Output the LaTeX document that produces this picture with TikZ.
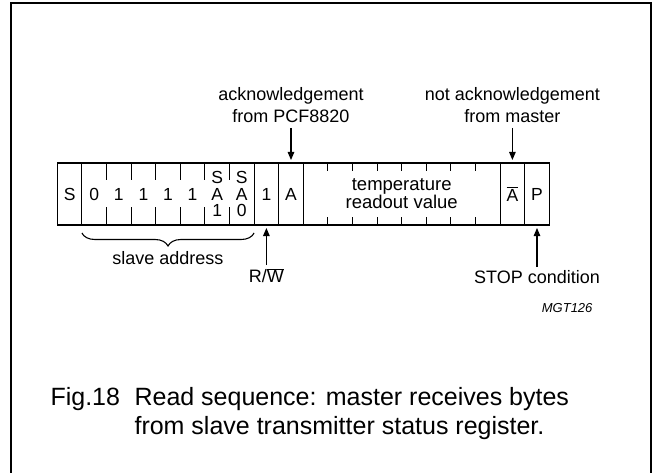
\documentclass[tikz,border=0pt]{standalone}
\usepackage{fontspec}
\setmainfont{Liberation Sans}
\usetikzlibrary{arrows.meta, positioning, decorations.pathreplacing}

\begin{document}
\begin{tikzpicture}[
            x = 1pt, y = -1pt,
            > = {Triangle[length=8pt, width=6.5pt]},
            line width = 1.1pt,
            node distance = 0pt
        ]

        \tikzstyle{cell}=[
            minimum width = 24.6pt,
            minimum height = 62pt,
            inner sep = 0pt,
            outer sep = 0pt,
            align = center,
            font = \fontsize{17.5}{16.5}\selectfont
        ]
        \tikzstyle{lbl}=[
            inner sep = 0pt,
            align = center,
            font = \fontsize{18}{22}\selectfont
        ]
        \tikzstyle{capt}=[
            inner sep = 0pt,
            anchor = base west,
            font = \fontsize{25}{29}\selectfont
        ]

        \useasboundingbox (0,0) rectangle (653,473);
        % frame, open at the bottom
        \draw[line width=2pt] (11,473) -- (11,3.5) -- (651,3.5) -- (651,473);

        % the byte cells
        \node[cell] (c1) at (69.6,194) {S};
        \node[cell] (c2) [right=of c1] {0};
        \foreach \i/\j in {3/2, 4/3, 5/4, 6/5}
            \node[cell] (c\i) [right=of c\j] {1};
        \node[cell] (c7) [right=of c6] {S\\A\\1};
        \node[cell] (c8) [right=of c7] {S\\A\\0};
        \node[cell] (c9) [right=of c8] {1};
        \node[cell] (c10) [right=of c9] {A};
        \foreach \i/\j in {11/10, 12/11, 13/12, 14/13, 15/14, 16/15, 17/16, 18/17}
            \node[cell] (c\i) [right=of c\j] {};
        \node[cell] (c19) [right=of c18] {$\overline{\hbox{A}}$};
        \node[cell] (c20) [right=of c19] {P};
        \node[cell, minimum width=0pt, font=\fontsize{18.5}{18}\selectfont] (temp) at (c14.east)
            {temperature\\readout value};

        \draw (c1.north west) rectangle (c20.south east);
        \foreach \c in {1, 8, 9, 10, 18, 19}
            \draw (c\c.north east) -- (c\c.south east);
        \foreach \c in {2,...,7} {
            \draw (c\c.north east) -- ++(0,17);
            \draw (c\c.south east) -- ++(0,-18);
        }
        \foreach \c in {11,...,17} {
            \draw (c\c.north east) -- ++(0,8);
            \draw (c\c.south east) -- ++(0,-8);
        }

        % labels and arrows
        \coordinate (ackt) at ([yshift=35pt]c10.north);
        \node[lbl] (ack) [above=5pt of ackt] {acknowledgement\\from PCF8820};
        \draw[->, shorten >=3pt] (ackt) -- (c10.north);

        \coordinate (nackt) at ([yshift=35pt]c19.north);
        \node[lbl] (nack) [above=5pt of nackt] {not acknowledgement\\from master};
        \draw[->, shorten >=3pt] (nackt) -- (c19.north);

        \coordinate (rwt) at ([yshift=-40pt]c9.south);
        \node[lbl] (rw) [below=3pt of rwt] {R/$\overline{\hbox{W}}$};
        \draw[->, shorten >=3pt] (rwt) -- (c9.south);

        \coordinate (stopt) at ([yshift=-42pt]c20.south);
        \node[lbl] (stop) [below=3pt of stopt] {STOP condition};
        \draw[->, shorten >=3pt] (stopt) -- (c20.south);

        \draw[decorate, decoration={brace, mirror, amplitude=13pt}]
            ([yshift=-8pt]c2.south west) -- ([yshift=-8pt]c8.south east)
            node[lbl, midway, below=18pt] (addr) {slave address};

        \node[inner sep=0pt, anchor=base east, font=\fontsize{13}{15}\selectfont\itshape]
            (mgt) at (593,312) {MGT126};

        % caption
        \node[capt] (fig) at (50,405) {Fig.18};
        \node[capt] (cap1) at (134,405) {Read sequence: master receives bytes};
        \node[capt] (cap2) at ([yshift=-29pt]cap1.base west) {from slave transmitter status register.};

    \end{tikzpicture}
\end{document}
